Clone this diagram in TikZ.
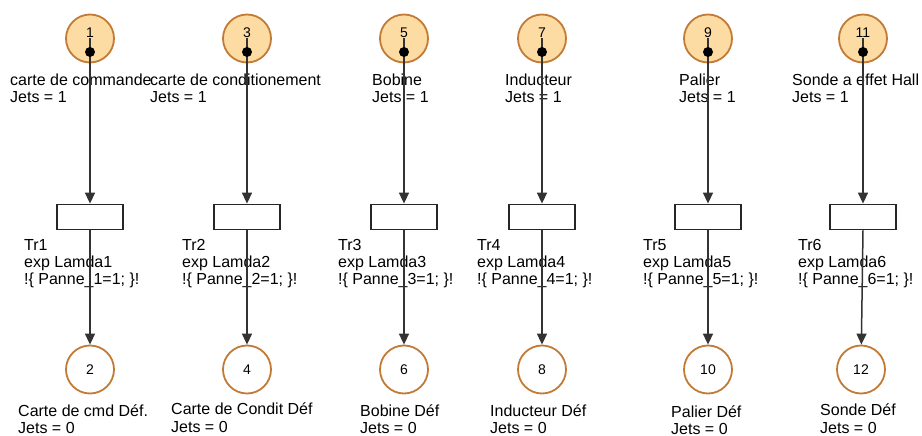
\documentclass[tikz,border=0pt]{standalone}
\usepackage{fontspec}
\setmainfont{Liberation Sans}
\usetikzlibrary{arrows.meta}
\definecolor{placeedge}{HTML}{C27A35}
\definecolor{placefill}{HTML}{FDDCA4}
\definecolor{arcgray}{HTML}{333333}
\tikzset{
  place/.style={circle, draw=placeedge, line width=1.8pt, minimum size=48pt,
    inner sep=0pt, font=\fontsize{14}{14}\selectfont},
  marked/.style={place, fill=placefill, text height=10pt, text depth=11pt},
  unmarked/.style={place, fill=white},
  trans/.style={rectangle, draw=black!85, line width=1.8pt, fill=white,
    minimum width=66pt, minimum height=25pt, inner sep=0pt},
  arc/.style={draw=arcgray, line width=1.5pt, -{Triangle[length=11pt,width=10pt]}},
  lbl/.style={anchor=base west, inner sep=0pt, font=\fontsize{16}{17.5}\selectfont},
}
\begin{document}
\begin{tikzpicture}[x=1pt, y=-1pt]
\useasboundingbox (0,0) rectangle (922,436);

% places and transitions, one column per component
\foreach \c/\x/\xb/\pa/\pb in {1/90/90/1/2, 2/247/247/3/4, 3/404/404/5/6,
                               4/542/542/7/8, 5/708/708/9/10, 6/863/861/11/12} {
  \node[marked]   (p\pa) at (\x,38.5) {\pa};
  \node[trans]    (t\c)  at (\x,217) {};
  \node[unmarked] (p\pb) at (\xb,369.5) {\pb};
}

% labels of the marked places
\node[lbl] (l1a) at (10,85)    {carte de commande};
\node[lbl] (l1b) at (10,102.5) {Jets = 1};
\node[lbl] (l3a) at (150,85)    {carte de conditionement};
\node[lbl] (l3b) at (150,102.5) {Jets = 1};
\node[lbl] (l5a) at (372,85)    {Bobine};
\node[lbl] (l5b) at (372,102.5) {Jets = 1};
\node[lbl] (l7a) at (505,85)    {Inducteur};
\node[lbl] (l7b) at (505,102.5) {Jets = 1};
\node[lbl] (l9a) at (679,85)    {Palier};
\node[lbl] (l9b) at (679,102.5) {Jets = 1};
\node[lbl] (l11a) at (792,85)    {Sonde a effet Hall};
\node[lbl] (l11b) at (792,102.5) {Jets = 1};

% labels of the transitions
\foreach \c/\x in {1/24, 2/182, 3/338, 4/477, 5/643, 6/798} {
  \node[lbl] (tr\c a) at (\x,250) {Tr\c};
  \node[lbl] (tr\c b) at (\x,267) {exp Lamda\c};
  \node[lbl] (tr\c c) at (\x,284) {!\{ Panne\_\c=1; \}!};
}

% labels of the failure places
\node[lbl] (l2a) at (18,416) {Carte de cmd Déf.};
\node[lbl] (l2b) at (18,433) {Jets = 0};
\node[lbl] (l4a) at (171,414) {Carte de Condit Déf};
\node[lbl] (l4b) at (171,432) {Jets = 0};
\node[lbl] (l6a) at (360,416) {Bobine Déf};
\node[lbl] (l6b) at (360,433) {Jets = 0};
\node[lbl] (l8a) at (490,416) {Inducteur Déf};
\node[lbl] (l8b) at (490,433) {Jets = 0};
\node[lbl] (l10a) at (671,417) {Palier Déf};
\node[lbl] (l10b) at (671,434) {Jets = 0};
\node[lbl] (l12a) at (820,415) {Sonde Déf};
\node[lbl] (l12b) at (820,433) {Jets = 0};

% arcs
\foreach \c/\pa/\pb in {1/1/2, 2/3/4, 3/5/6, 4/7/8, 5/9/10, 6/11/12} {
  \draw[arc] (p\pa.center) -- (t\c.north);
  \draw[arc] (t\c.south) -- (p\pb);
}

% tokens
\foreach \pa in {1,3,5,7,9,11}
  \fill (p\pa.center) ++(0,13.5) circle (5pt);
\end{tikzpicture}
\end{document}
